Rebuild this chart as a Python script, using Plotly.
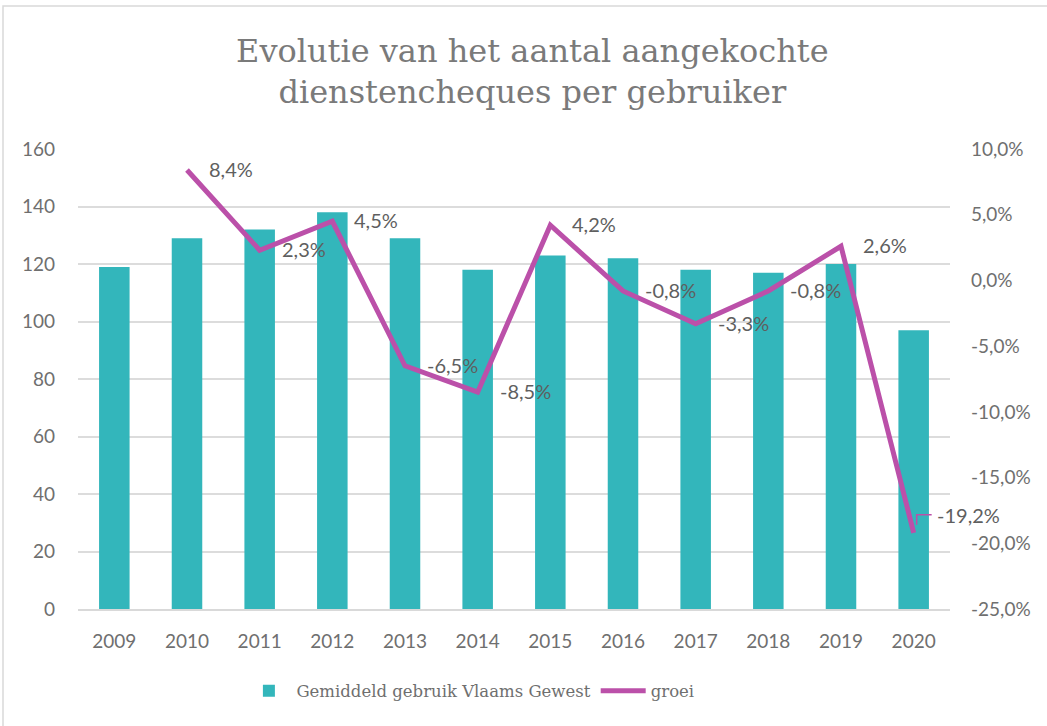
import plotly.graph_objects as go

years = ["2009", "2010", "2011", "2012", "2013", "2014", "2015", "2016", "2017", "2018", "2019", "2020"]
gebruik = [119, 129, 132, 138, 129, 118, 123, 122, 118, 117, 120, 97]
groei_years = ["2010", "2011", "2012", "2013", "2014", "2015", "2016", "2017", "2018", "2019", "2020"]
groei = [8.4, 2.3, 4.5, -6.5, -8.5, 4.2, -0.8, -3.3, -0.8, 2.6, -19.2]
left_ticks = [0, 20, 40, 60, 80, 100, 120, 140, 160]
right_ticks = [10, 5, 0, -5, -10, -15, -20, -25]

TEAL = "#33b6bb"
MAGENTA = "#bb50a9"
GRAY = "#6f6f6f"
SANS = "Lato, 'Open Sans', sans-serif"
SERIF = "'DejaVu Serif', serif"

def pct(v):
    return f"{v:.1f}".replace(".", ",") + "%"

fig = go.Figure()
fig.add_trace(go.Bar(x=years, y=gebruik, name="Gemiddeld gebruik Vlaams Gewest",
                     marker=dict(color=TEAL, line=dict(width=0)), yaxis="y"))
fig.add_trace(go.Scatter(x=groei_years, y=groei, name="groei", mode="lines",
                         line=dict(color=MAGENTA, width=5), yaxis="y2"))

annotations = []
shapes = []
for yr, v in zip(groei_years, groei):
    idx = years.index(yr)  # category axes place annotations by serial number
    last = (yr == groei_years[-1])
    annotations.append(dict(x=idx, y=v, xref="x", yref="y2", text=pct(v), showarrow=False,
                            xanchor="left", yanchor="middle",
                            xshift=21 if last else 20, yshift=18 if last else 1,
                            font=dict(family=SANS, size=20, color="#5f5f5f")))
    if last:
        shapes.append(dict(type="path", xref="x", yref="y2", xsizemode="pixel",
                           ysizemode="pixel", xanchor=idx, yanchor=v,
                           path="M 3,8 L 3,18 L 18,18",
                           line=dict(color=MAGENTA, width=1.5)))

shapes.append(dict(type="rect", xref="paper", yref="paper", x0=-0.086, x1=1.3,
                   y0=-0.5, y1=1.311, line=dict(color="#d9d9d9", width=1.5), layer="below"))

fig.update_layout(
    width=1047, height=726,
    margin=dict(l=78, r=97, t=149, b=117),
    paper_bgcolor="white", plot_bgcolor="white",
    title=dict(text="Evolutie van het aantal aangekochte<br>dienstencheques per gebruiker",
               x=0.521, xanchor="center", xref="paper", y=0.915, yanchor="top",
               font=dict(family=SERIF, size=32, color="#7a7a7a")),
    bargap=0.58,
    showlegend=True,
    legend=dict(orientation="h", x=0.45, xanchor="center", y=-0.14, yanchor="top",
                font=dict(family=SERIF, size=16.5, color=GRAY), itemwidth=45,
                traceorder="normal"),
    xaxis=dict(type="category", categoryorder="array", categoryarray=years,
               range=[-0.5, 11.5], autorange=False, showgrid=False, showline=True,
               linecolor="#d9d9d9", linewidth=1.5, ticks="",
               tickfont=dict(family=SANS, size=19, color=GRAY), ticklabelstandoff=14),
    yaxis=dict(range=[0, 160], tickvals=left_ticks, showgrid=True, gridcolor="#dcdcdc",
               gridwidth=1.5, zeroline=False, showline=False, ticks="",
               tickfont=dict(family=SANS, size=19, color=GRAY), ticklabelstandoff=22),
    yaxis2=dict(range=[-25, 10], overlaying="y", side="right", tickvals=right_ticks,
                ticktext=[pct(t) for t in right_ticks], showgrid=False, zeroline=False,
                showline=False, ticks="", tickfont=dict(family=SANS, size=19, color=GRAY),
                ticklabelstandoff=20),
    annotations=annotations,
    shapes=shapes,
)

fig.write_html("out.html", config={"displayModeBar": False},
               post_script="document.body.style.margin='0';")
